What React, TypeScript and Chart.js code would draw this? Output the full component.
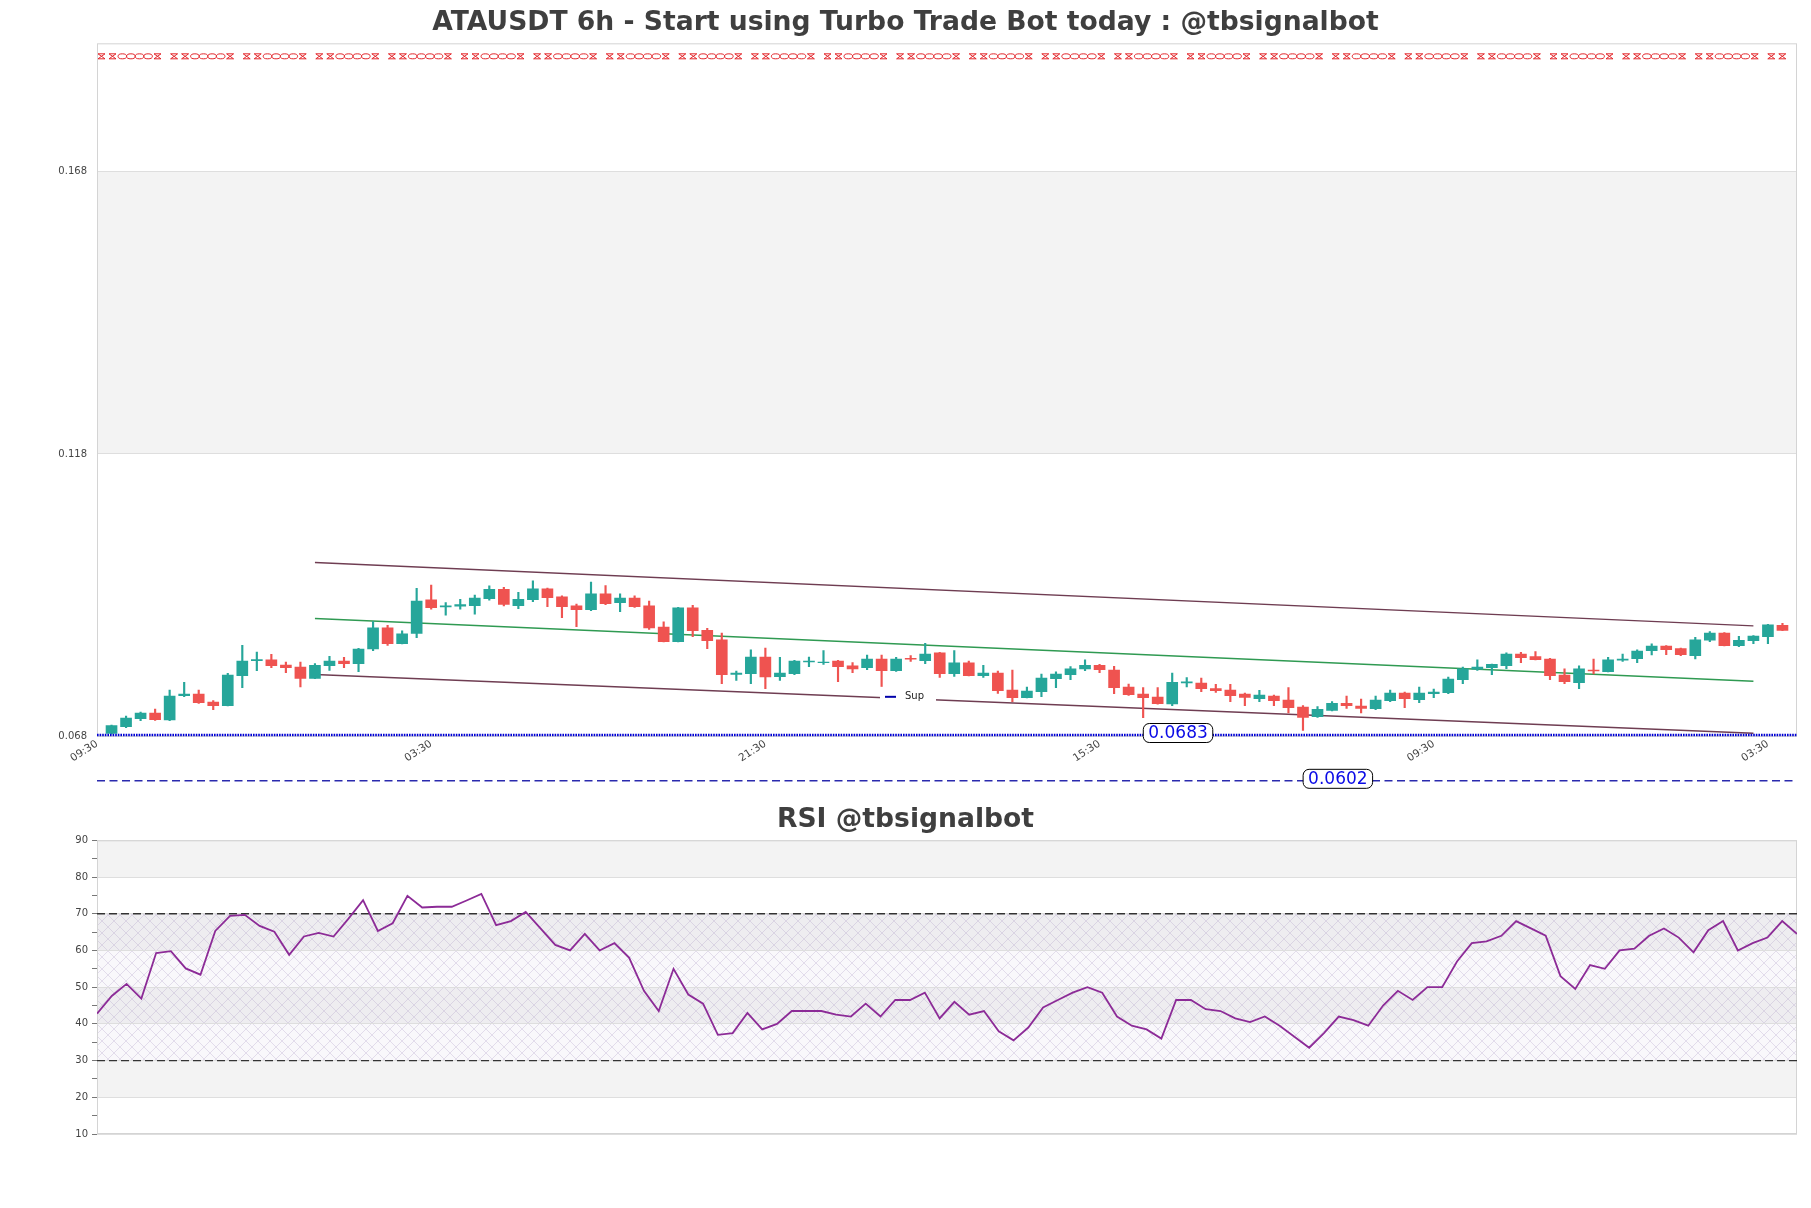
import React, { useEffect, useRef } from 'react';
import { Chart, registerables } from 'chart.js';

Chart.register(...registerables);

const FONT = "'DejaVu Sans', sans-serif";

const TITLE = 'ATAUSDT 6h - Start using Turbo Trade Bot today : @tbsignalbot';
const RSI_TITLE = 'RSI @tbsignalbot';

// ---- candles (slot 1..116) ----
const OPEN = [
  0.06860, 0.06978, 0.07119, 0.07219, 0.07095, 0.07526, 0.07555, 0.07414, 0.07349, 0.07880,
  0.08145, 0.08157, 0.08068, 0.08033, 0.07832, 0.08056, 0.08139, 0.08092, 0.08351, 0.08723,
  0.08446, 0.08628, 0.09218, 0.09094, 0.09106, 0.09118, 0.09242, 0.09407, 0.09118, 0.09224,
  0.09413, 0.09271, 0.09112, 0.09047, 0.09324, 0.09171, 0.09253, 0.09112, 0.08740, 0.08481,
  0.09077, 0.08681, 0.08511, 0.07903, 0.07915, 0.08210, 0.07862, 0.07915, 0.08121, 0.08110,
  0.08139, 0.08051, 0.08021, 0.08174, 0.07968, 0.08186, 0.08145, 0.08281, 0.07915, 0.08104,
  0.07880, 0.07927, 0.07626, 0.07490, 0.07597, 0.07826, 0.07897, 0.07998, 0.08062, 0.07980,
  0.07679, 0.07555, 0.07502, 0.07378, 0.07750, 0.07750, 0.07650, 0.07626, 0.07555, 0.07473,
  0.07520, 0.07449, 0.07325, 0.07154, 0.07266, 0.07390, 0.07343, 0.07296, 0.07437, 0.07573,
  0.07455, 0.07561, 0.07579, 0.07809, 0.07992, 0.08021, 0.08056, 0.08263, 0.08216, 0.08174,
  0.07891, 0.07756, 0.07980, 0.07950, 0.08151, 0.08180, 0.08322, 0.08404, 0.08357, 0.08233,
  0.08505, 0.08634, 0.08410, 0.08499, 0.08569, 0.08770,
];
const HIGH = [
  0.07007, 0.07166, 0.07237, 0.07290, 0.07626, 0.07762, 0.07626, 0.07437, 0.07921, 0.08416,
  0.08298, 0.08257, 0.08121, 0.08121, 0.08092, 0.08222, 0.08204, 0.08363, 0.08835, 0.08770,
  0.08670, 0.09424, 0.09483, 0.09171, 0.09230, 0.09306, 0.09466, 0.09442, 0.09354, 0.09554,
  0.09430, 0.09289, 0.09147, 0.09536, 0.09472, 0.09324, 0.09289, 0.09200, 0.08829, 0.09088,
  0.09124, 0.08717, 0.08634, 0.07962, 0.08334, 0.08369, 0.08204, 0.08151, 0.08210, 0.08322,
  0.08151, 0.08110, 0.08245, 0.08245, 0.08204, 0.08233, 0.08452, 0.08292, 0.08322, 0.08139,
  0.08062, 0.07962, 0.07980, 0.07679, 0.07909, 0.07945, 0.08039, 0.08157, 0.08080, 0.08045,
  0.07732, 0.07667, 0.07667, 0.07927, 0.07844, 0.07838, 0.07726, 0.07726, 0.07573, 0.07620,
  0.07538, 0.07667, 0.07349, 0.07331, 0.07420, 0.07520, 0.07467, 0.07520, 0.07626, 0.07591,
  0.07679, 0.07644, 0.07856, 0.08033, 0.08157, 0.08086, 0.08281, 0.08292, 0.08304, 0.08186,
  0.07998, 0.08051, 0.08174, 0.08204, 0.08263, 0.08334, 0.08440, 0.08410, 0.08369, 0.08558,
  0.08658, 0.08640, 0.08575, 0.08587, 0.08788, 0.08805,
];
const LOW = [
  0.06848, 0.06960, 0.07083, 0.07090, 0.07083, 0.07508, 0.07390, 0.07278, 0.07343, 0.07667,
  0.07968, 0.08021, 0.07933, 0.07679, 0.07826, 0.07974, 0.08021, 0.07950, 0.08322, 0.08416,
  0.08440, 0.08552, 0.09053, 0.08947, 0.09053, 0.08965, 0.09212, 0.09112, 0.09065, 0.09189,
  0.09100, 0.08906, 0.08746, 0.09029, 0.09136, 0.09012, 0.09088, 0.08699, 0.08475, 0.08475,
  0.08569, 0.08357, 0.07738, 0.07797, 0.07738, 0.07650, 0.07797, 0.07897, 0.08039, 0.08080,
  0.07773, 0.07933, 0.07986, 0.07685, 0.07956, 0.08133, 0.08092, 0.07850, 0.07868, 0.07874,
  0.07850, 0.07567, 0.07420, 0.07485, 0.07508, 0.07667, 0.07809, 0.07968, 0.07933, 0.07561,
  0.07532, 0.07137, 0.07373, 0.07349, 0.07679, 0.07597, 0.07585, 0.07420, 0.07349, 0.07420,
  0.07349, 0.07219, 0.06913, 0.07143, 0.07255, 0.07302, 0.07219, 0.07278, 0.07420, 0.07314,
  0.07402, 0.07490, 0.07561, 0.07738, 0.07974, 0.07897, 0.08003, 0.08110, 0.08157, 0.07809,
  0.07738, 0.07650, 0.07909, 0.07945, 0.08133, 0.08110, 0.08245, 0.08251, 0.08233, 0.08174,
  0.08481, 0.08404, 0.08393, 0.08446, 0.08446, 0.08676,
];
const CLOSE = [
  0.06995, 0.07131, 0.07219, 0.07101, 0.07520, 0.07555, 0.07402, 0.07349, 0.07891, 0.08139,
  0.08163, 0.08056, 0.08021, 0.07832, 0.08062, 0.08139, 0.08092, 0.08351, 0.08723, 0.08446,
  0.08617, 0.09200, 0.09082, 0.09112, 0.09136, 0.09253, 0.09407, 0.09141, 0.09230, 0.09413,
  0.09259, 0.09100, 0.09047, 0.09324, 0.09153, 0.09253, 0.09100, 0.08723, 0.08481, 0.09077,
  0.08676, 0.08499, 0.07897, 0.07927, 0.08210, 0.07856, 0.07927, 0.08139, 0.08139, 0.08121,
  0.08039, 0.07998, 0.08174, 0.07968, 0.08174, 0.08169, 0.08263, 0.07915, 0.08104, 0.07880,
  0.07927, 0.07614, 0.07490, 0.07608, 0.07838, 0.07909, 0.07998, 0.08062, 0.07986, 0.07667,
  0.07543, 0.07490, 0.07384, 0.07762, 0.07768, 0.07650, 0.07614, 0.07526, 0.07496, 0.07538,
  0.07437, 0.07314, 0.07143, 0.07284, 0.07390, 0.07349, 0.07302, 0.07449, 0.07573, 0.07473,
  0.07573, 0.07591, 0.07821, 0.07998, 0.08033, 0.08080, 0.08263, 0.08198, 0.08163, 0.07880,
  0.07773, 0.07998, 0.07962, 0.08157, 0.08174, 0.08316, 0.08404, 0.08340, 0.08251, 0.08511,
  0.08634, 0.08410, 0.08505, 0.08581, 0.08776, 0.08681,
];
const FIRST_SLOT = 1;
const LAST_SLOT = 117;

// x tick labels (slot index -> text)
const X_TICK_SLOTS = [0, 23, 46, 69, 92, 115];
const X_TICK_LABELS = ['09:30', '03:30', '21:30', '15:30', '09:30', '03:30'];

// price axis
const Y_MIN = 0.068;
const Y_MAX = 0.1906;
const Y_TICKS = [0.068, 0.118, 0.168];

// channel lines [start, end]
const CHANNEL_SLOTS = [15, 114];
const CHANNEL_UPPER = [0.0988, 0.0876];
const CHANNEL_MIDDLE = [0.0889, 0.0778];
const CHANNEL_LOWER = [0.0790, 0.0686];

// levels
const RESIST_LEVEL = 0.1883;
const SUPPORT_LEVEL = 0.0683;
const SUPPORT2_LEVEL = 0.0602;
const SUPPORT_LABEL_SLOT = 74.4;
const SUPPORT2_LABEL_SLOT = 85.4;
const SUPPORT_NAME = 'Sup';

// RSI
const RSI = [
  42.8, 47.6, 50.9, 46.9, 59.3, 59.8, 55.1, 53.4, 65.3, 69.4,
  69.7, 66.7, 65.1, 58.8, 63.8, 64.8, 63.8, 68.6, 73.7, 65.3,
  67.4, 74.9, 71.7, 71.9, 71.9, 73.6, 75.4, 66.9, 68.0, 70.5,
  66.0, 61.5, 60.0, 64.5, 60.0, 62.0, 58.0, 49.0, 43.5, 55.0,
  48.0, 45.5, 37.0, 37.5, 43.0, 38.5, 40.0, 43.5, 43.5, 43.5,
  42.5, 42.0, 45.5, 42.0, 46.5, 46.5, 48.5, 41.5, 46.0, 42.5,
  43.5, 38.0, 35.5, 39.0, 44.5, 46.5, 48.5, 50.0, 48.5, 42.0,
  39.5, 38.5, 36.0, 46.5, 46.5, 44.0, 43.5, 41.5, 40.5, 42.0,
  39.5, 36.5, 33.5, 37.5, 42.0, 41.0, 39.5, 45.0, 49.0, 46.5,
  50.0, 50.0, 57.0, 62.0, 62.5, 64.0, 68.0, 66.0, 64.0, 53.0,
  49.5, 56.0, 55.0, 60.0, 60.5, 64.0, 66.0, 63.5, 59.5, 65.5,
  68.0, 60.0, 62.0, 63.5, 68.0, 64.5,
];
const RSI_MIN = 10;
const RSI_MAX = 90;
const RSI_TICKS = [10, 15, 20, 25, 30, 35, 40, 45, 50, 55, 60, 65, 70, 75, 80, 85, 90];
const RSI_BANDS = [10, 20, 30, 40, 50, 60, 70, 80, 90];
const RSI_LEVELS = [70, 30];

const UP = '#26a69a';
const DOWN = '#ef5350';
const BAND_GRAY = '#f3f3f3';
const GRID = '#dedede';
const BORDER = '#d4d4d4';
const TICK_TEXT = '#444444';

const bandsPlugin = {
  id: 'bands',
  beforeDraw(chart: any, _a: any, opts: any) {
    const { ctx, chartArea: a, scales } = chart;
    const y = scales.y;
    const vals: number[] = opts.values || [];
    ctx.save();
    ctx.fillStyle = '#ffffff';
    ctx.fillRect(a.left, a.top, a.width, a.height);
    for (let k = 0; k < vals.length - 1; k++) {
      if (k % 2 === 1) {
        const y0 = y.getPixelForValue(vals[k]);
        const y1 = y.getPixelForValue(vals[k + 1]);
        ctx.fillStyle = BAND_GRAY;
        ctx.fillRect(a.left, y1, a.width, y0 - y1);
      }
    }
    if (opts.hatch) {
      const c = document.createElement('canvas');
      c.width = 12;
      c.height = 12;
      const g = c.getContext('2d') as CanvasRenderingContext2D;
      g.strokeStyle = 'rgba(170,150,195,0.42)';
      g.lineWidth = 0.7;
      g.beginPath();
      g.moveTo(0, 0);
      g.lineTo(12, 12);
      g.moveTo(12, 0);
      g.lineTo(0, 12);
      g.stroke();
      const pat = ctx.createPattern(c, 'repeat');
      const h0 = y.getPixelForValue(opts.hatch[0]);
      const h1 = y.getPixelForValue(opts.hatch[1]);
      ctx.fillStyle = 'rgba(200,185,220,0.10)';
      ctx.fillRect(a.left, h1, a.width, h0 - h1);
      if (pat) {
        ctx.fillStyle = pat;
        ctx.fillRect(a.left, h1, a.width, h0 - h1);
      }
    }
    ctx.restore();
  },
  beforeDatasetsDraw(chart: any) {
    const { ctx, chartArea: a } = chart;
    ctx.save();
    ctx.strokeStyle = BORDER;
    ctx.lineWidth = 1;
    ctx.strokeRect(a.left + 0.5, a.top + 0.5, a.width - 1, a.height - 1);
    ctx.restore();
  },
};

function valueBox(ctx: CanvasRenderingContext2D, cx: number, cy: number, text: string) {
  ctx.font = `17px ${FONT}`;
  const w = ctx.measureText(text).width + 10;
  const h = 19;
  ctx.beginPath();
  (ctx as any).roundRect(cx - w / 2, cy - h / 2, w, h, 6);
  ctx.fillStyle = '#ffffff';
  ctx.fill();
  ctx.setLineDash([]);
  ctx.lineWidth = 1;
  ctx.strokeStyle = '#000000';
  ctx.stroke();
  ctx.fillStyle = '#0a0ae6';
  ctx.textAlign = 'center';
  ctx.textBaseline = 'middle';
  ctx.fillText(text, cx, cy + 1);
}

// chain-like marker line used for the resistance level
function chainLine(ctx: CanvasRenderingContext2D, x0: number, x1: number, yc: number) {
  const P = 72.6;
  const hh = 2.5;
  ctx.beginPath();
  const hourglass = (a: number) => {
    if (a >= x1) return;
    const b = Math.min(a + 7, x1);
    ctx.moveTo(a, yc - hh);
    ctx.lineTo(b, yc - hh);
    ctx.moveTo(a, yc + hh);
    ctx.lineTo(b, yc + hh);
    ctx.moveTo(a, yc - hh);
    ctx.lineTo(b, yc + hh);
    ctx.moveTo(a, yc + hh);
    ctx.lineTo(b, yc - hh);
  };
  for (let p = x0; p < x1; p += P) {
    hourglass(p);
    hourglass(p + 11);
    for (let k = 0; k < 4; k++) {
      const a = p + 20 + k * 8.6;
      if (a + 8.6 > x1) break;
      ctx.moveTo(a + 8.6, yc);
      ctx.ellipse(a + 4.3, yc, 4.3, hh, 0, 0, Math.PI * 2);
    }
    hourglass(p + 56);
  }
  ctx.stroke();
}

const priceOverlay = {
  id: 'priceOverlay',
  afterDatasetsDraw(chart: any) {
    const { ctx, chartArea: a, scales } = chart;
    const { x, y } = scales;
    ctx.save();
    // resistance line
    const ry = y.getPixelForValue(RESIST_LEVEL);
    ctx.strokeStyle = '#e3262b';
    ctx.lineWidth = 1;
    chainLine(ctx, a.left + 1, a.right - 1, ry);
    // support dotted
    const sy = y.getPixelForValue(SUPPORT_LEVEL);
    ctx.strokeStyle = '#0000d4';
    ctx.lineWidth = 2.4;
    ctx.setLineDash([1.6, 1]);
    ctx.beginPath();
    ctx.moveTo(a.left, sy);
    ctx.lineTo(a.right, sy);
    ctx.stroke();
    // second support dashed (outside plot area)
    const s2 = y.getPixelForValue(SUPPORT2_LEVEL);
    ctx.strokeStyle = '#2a2aae';
    ctx.lineWidth = 1.5;
    ctx.setLineDash([8, 4.5]);
    ctx.beginPath();
    ctx.moveTo(a.left, s2);
    ctx.lineTo(a.right, s2);
    ctx.stroke();
    ctx.setLineDash([]);
    valueBox(ctx, x.getPixelForValue(SUPPORT_LABEL_SLOT), sy - 2, SUPPORT_LEVEL.toFixed(4));
    valueBox(ctx, x.getPixelForValue(SUPPORT2_LABEL_SLOT), s2 - 2, SUPPORT2_LEVEL.toFixed(4));
    // legend box
    const lx = a.left + 783;
    const ly = a.top + 653.5;
    ctx.fillStyle = '#ffffff';
    ctx.fillRect(lx, ly - 10, 56, 20);
    ctx.strokeStyle = '#0000aa';
    ctx.lineWidth = 2;
    ctx.beginPath();
    ctx.moveTo(lx + 5, ly);
    ctx.lineTo(lx + 16, ly);
    ctx.stroke();
    ctx.fillStyle = '#222222';
    ctx.font = `10px ${FONT}`;
    ctx.textAlign = 'left';
    ctx.textBaseline = 'middle';
    ctx.fillText(SUPPORT_NAME, lx + 25, ly);
    ctx.restore();
  },
};

const rsiOverlay = {
  id: 'rsiOverlay',
  beforeDatasetsDraw(chart: any) {
    const { ctx, chartArea: a, scales } = chart;
    ctx.save();
    ctx.strokeStyle = '#333333';
    ctx.lineWidth = 1.3;
    ctx.setLineDash([8, 4]);
    for (const lv of RSI_LEVELS) {
      const py = scales.y.getPixelForValue(lv);
      ctx.beginPath();
      ctx.moveTo(a.left, py);
      ctx.lineTo(a.right, py);
      ctx.stroke();
    }
    ctx.restore();
  },
};

function lineSeg(values: number[], color: string) {
  return {
    type: 'line' as const,
    data: CHANNEL_SLOTS.map((s, i) => ({ x: s, y: values[i] })),
    borderColor: color,
    borderWidth: 1.4,
    pointRadius: 0,
    order: 3,
  };
}

// empty right-hand axis used as the right margin so the title stays centred on the canvas
const rightSpacer = {
  type: 'linear',
  position: 'right',
  display: true,
  afterFit: (s: any) => {
    s.width = 14;
  },
  ticks: { display: false },
  grid: { display: false, drawTicks: false },
  border: { display: false },
};

export default function App() {
  const priceRef = useRef<HTMLCanvasElement>(null);
  const rsiRef = useRef<HTMLCanvasElement>(null);

  useEffect(() => {
    const colors = OPEN.map((o, i) => (CLOSE[i] >= o ? UP : DOWN));
    const bodies = OPEN.map((o, i) => ({ x: i + FIRST_SLOT, y: [o, CLOSE[i]] }));
    const wicks = LOW.map((l, i) => ({ x: i + FIRST_SLOT, y: [l, HIGH[i]] }));

    const price = new Chart(priceRef.current as HTMLCanvasElement, {
      type: 'bar',
      data: {
        datasets: [
          { type: 'bar', data: bodies as any, backgroundColor: colors, borderWidth: 0, barThickness: 11, grouped: false, order: 0 } as any,
          { type: 'bar', data: wicks as any, backgroundColor: colors, borderWidth: 0, barThickness: 1.5, grouped: false, order: 1 } as any,
          lineSeg(CHANNEL_UPPER, '#6f3d52'),
          lineSeg(CHANNEL_MIDDLE, '#2f9a52'),
          lineSeg(CHANNEL_LOWER, '#6f3d52'),
        ],
      },
      options: {
        responsive: false,
        animation: false,
        devicePixelRatio: 1,
        layout: { padding: { left: 0, right: 0, top: 0, bottom: 0 } },
        scales: {
          x: {
            type: 'linear',
            min: 0,
            max: LAST_SLOT,
            offset: false,
            afterBuildTicks: (s: any) => {
              s.ticks = X_TICK_SLOTS.map((v) => ({ value: v }));
            },
            afterFit: (s: any) => {
              s.height = 58.3;
            },
            ticks: {
              autoSkip: false,
              minRotation: 33,
              maxRotation: 33,
              padding: 1,
              color: TICK_TEXT,
              font: { family: FONT, size: 10.5 },
              callback: (v: any) => {
                const k = X_TICK_SLOTS.indexOf(Number(v));
                return k >= 0 ? X_TICK_LABELS[k] : '';
              },
            },
            grid: { display: false, drawTicks: false },
            border: { display: false },
          },
          y: {
            type: 'linear',
            min: Y_MIN,
            max: Y_MAX,
            afterBuildTicks: (s: any) => {
              s.ticks = Y_TICKS.map((v) => ({ value: v }));
            },
            afterFit: (s: any) => {
              s.width = 97;
            },
            ticks: {
              padding: 10,
              color: TICK_TEXT,
              font: { family: FONT, size: 10 },
              callback: (v: any) => Number(v).toFixed(3),
            },
            grid: { color: GRID, drawTicks: false },
            border: { display: false },
          },
          yRight: rightSpacer,
        },
        plugins: {
          legend: { display: false },
          tooltip: { enabled: false },
          title: {
            display: true,
            text: TITLE,
            color: '#3f3f3f',
            font: { family: FONT, size: 26.6, weight: 'bold' },
            padding: { top: 7.1, bottom: 4.3 },
          },
          bands: { values: [...Y_TICKS, Y_MAX] },
        } as any,
      },
      plugins: [bandsPlugin, priceOverlay],
    } as any);

    const rsi = new Chart(rsiRef.current as HTMLCanvasElement, {
      type: 'line',
      data: {
        datasets: [
          {
            data: RSI.map((v, i) => ({ x: i, y: v })),
            borderColor: '#8c2b97',
            borderWidth: 1.8,
            pointRadius: 0,
            tension: 0,
          },
        ],
      },
      options: {
        responsive: false,
        animation: false,
        devicePixelRatio: 1,
        layout: { padding: { left: 0, right: 0, top: 0, bottom: 74 } },
        scales: {
          x: { type: 'linear', min: 0, max: RSI.length - 1, display: false },
          y: {
            min: RSI_MIN,
            max: RSI_MAX,
            afterBuildTicks: (s: any) => {
              s.ticks = RSI_TICKS.map((v) => ({ value: v }));
            },
            afterFit: (s: any) => {
              s.width = 97;
            },
            ticks: {
              padding: 4,
              color: TICK_TEXT,
              font: { family: FONT, size: 10 },
              callback: (v: any) => (Number(v) % 10 === 0 ? String(v) : ''),
            },
            grid: {
              color: (c: any) => (c.tick && c.tick.value % 10 === 0 ? GRID : 'rgba(0,0,0,0)'),
              tickColor: '#777777',
              tickLength: 5,
              drawTicks: true,
            },
            border: { display: false },
          },
          yRight: rightSpacer,
        },
        plugins: {
          legend: { display: false },
          tooltip: { enabled: false },
          title: {
            display: true,
            text: RSI_TITLE,
            color: '#3f3f3f',
            font: { family: FONT, size: 26.6, weight: 'bold' },
            padding: { top: 9.1, bottom: 4.3 },
          },
          bands: { values: RSI_BANDS, hatch: [30, 70] },
        } as any,
      },
      plugins: [bandsPlugin, rsiOverlay],
    } as any);

    return () => {
      price.destroy();
      rsi.destroy();
    };
  }, []);

  return (
    <div style={{ position: 'absolute', left: 0, top: 0, width: 1811, height: 1208, background: '#ffffff' }}>
      <canvas ref={priceRef} width={1811} height={795} style={{ position: 'absolute', left: 0, top: 0 }} />
      <canvas ref={rsiRef} width={1811} height={413} style={{ position: 'absolute', left: 0, top: 795 }} />
    </div>
  );
}
